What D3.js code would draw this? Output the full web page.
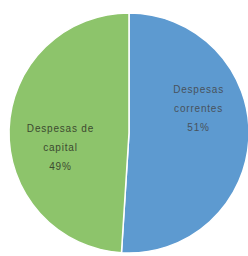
<!DOCTYPE html>
<html><head><meta charset="utf-8">
<script src="https://cdn.jsdelivr.net/npm/d3@7"></script>
<style>html,body{margin:0;padding:0;background:#fff;}svg{display:block;}</style>
</head><body>
<script>
const categories = ["Despesas correntes", "Despesas de capital"];
const values = [51, 49];
const labelLines = [["Despesas", "correntes", "51%"], ["Despesas de", "capital", "49%"]];
const colors = ["#5d9ad0", "#8dc46b"];

const W = 248, H = 256, cx = 129, cy = 133, r = 120;
const labelShift = [[0, -27], [1, 16]];
const svg = d3.select("body").append("svg").attr("width", W).attr("height", H);
const g = svg.append("g").attr("transform", `translate(${cx},${cy})`);
const pie = d3.pie().sort(null).value(d => d)(values);
const arc = d3.arc().innerRadius(0).outerRadius(r);
g.selectAll("path").data(pie).join("path")
  .attr("d", arc).attr("fill", (d, i) => colors[i])
  .attr("stroke", "#fff").attr("stroke-width", 1.5);
const labelArc = d3.arc().innerRadius(r * 0.58).outerRadius(r * 0.58);
pie.forEach((d, i) => {
  let [x, y] = labelArc.centroid(d);
  x += labelShift[i][0]; y += labelShift[i][1];
  const t = g.append("text").attr("text-anchor", "middle")
    .attr("font-family", "Liberation Sans, Arial, sans-serif")
    .attr("font-size", 10).attr("letter-spacing", 0.8).attr("fill", i === 0 ? "#48525c" : "#3c4a30");
  labelLines[i].forEach((s, j) => {
    t.append("tspan").attr("x", x).attr("y", y + (j - 1) * 19 + 4).text(s);
  });
});
</script>
</body></html>
